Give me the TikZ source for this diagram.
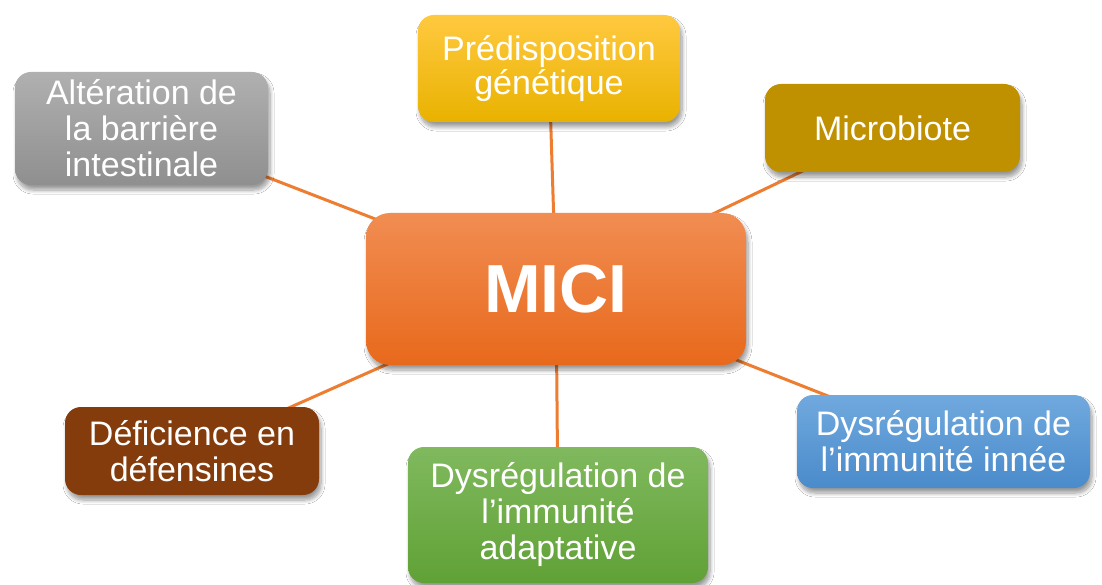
\documentclass[tikz,border=0pt]{standalone}
\usepackage{fontspec}
\setmainfont{Liberation Sans}
\usetikzlibrary{shadows.blur,backgrounds}
\definecolor{linkc}{HTML}{ED7D31}
\definecolor{miciT}{HTML}{F18D52}
\definecolor{miciB}{HTML}{E8691C}
\definecolor{yelT}{HTML}{FFC940}
\definecolor{yelM}{HTML}{FFC000}
\definecolor{yelB}{HTML}{E9B200}
\definecolor{grayT}{HTML}{B0B0B0}
\definecolor{grayB}{HTML}{8F8F8F}
\definecolor{goldc}{HTML}{BF9000}
\definecolor{brownc}{HTML}{843C0C}
\definecolor{greenT}{HTML}{80B95E}
\definecolor{greenB}{HTML}{60A136}
\definecolor{blueT}{HTML}{70A9DE}
\definecolor{blueB}{HTML}{4A8BCB}
\tikzset{
  box/.style={rounded corners=16pt, align=center, text=white, inner sep=0pt,
    font=\fontsize{34}{36}\selectfont,
    blur shadow={shadow xshift=2pt, shadow yshift=-5pt, shadow blur radius=4pt, shadow opacity=40, shadow blur steps=8}},
  link/.style={draw=linkc, line width=3pt}
}
\begin{document}
\begin{tikzpicture}[x=1pt,y=-1pt]
\useasboundingbox (0,0) rectangle (1102,585);
\node[box, rounded corners=24pt, minimum width=380pt, minimum height=152pt, top color=miciT, bottom color=miciB,
  font=\fontsize{68}{70}\selectfont\bfseries] (mici) at (556,289) {MICI};
\node[box, minimum width=262pt, minimum height=107pt, top color=yelT, middle color=yelM, bottom color=yelB] (gen) at (549,68.5) {\raisebox{-3pt}{\shortstack{Prédisposition\\[-1pt]génétique}}};
\node[box, minimum width=253pt, minimum height=113pt, top color=grayT, bottom color=grayB] (bar) at (141.5,128.5) {Altération de\\la barrière\\intestinale};
\node[box, minimum width=255pt, minimum height=88pt, fill=goldc] (mic) at (892.5,128) {Microbiote};
\node[box, minimum width=254pt, minimum height=88pt, fill=brownc] (def) at (192,451) {Déficience en\\défensines};
\node[box, minimum width=300pt, minimum height=136pt, top color=greenT, bottom color=greenB] (ada) at (558,515) {Dysrégulation de\\l’immunité\\adaptative};
\node[box, minimum width=293pt, minimum height=93pt, top color=blueT, bottom color=blueB] (inn) at (943.5,441.5) {Dysrégulation de\\l’immunité innée};
\begin{scope}[on background layer]
\fill[white] (0,0) rectangle (1102,585);
\draw[link] (mici.center) -- (gen.center);
\draw[link] (mici.center) -- (bar.center);
\draw[link] (mici.center) -- (mic.center);
\draw[link] (mici.center) -- (def.center);
\draw[link] (mici.center) -- (ada.center);
\draw[link] (mici.center) -- (inn.center);
\end{scope}
\end{tikzpicture}
\end{document}
